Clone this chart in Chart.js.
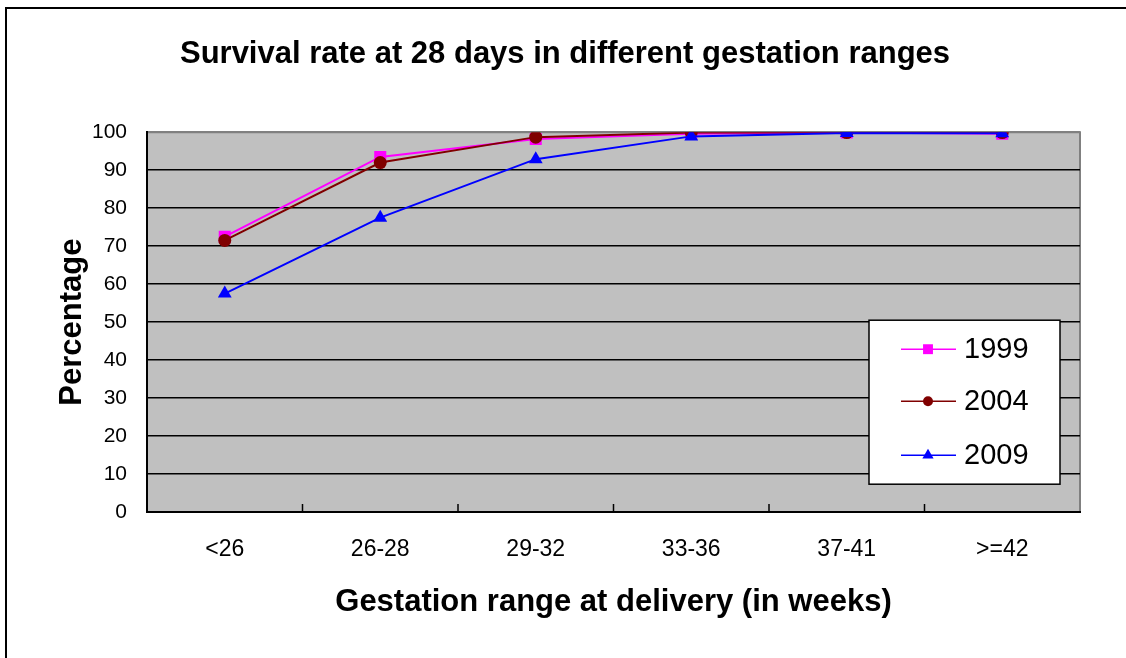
<!DOCTYPE html>
<html>
<head>
<meta charset="utf-8">
<script src="https://cdn.jsdelivr.net/npm/chart.js@4/dist/chart.umd.min.js"></script>
<style>
  html, body { margin: 0; padding: 0; background: #fff; }
  #frame { position: absolute; left: 5px; top: 7px; width: 1200px; height: 700px; border: 2px solid #000; }
  #wrap { position: absolute; left: 0; top: 0; width: 1126px; height: 658px; }
</style>
</head>
<body>
<div id="frame"></div>
<div id="wrap"><canvas id="chart"></canvas></div>
<script>
const categories = ["<26", "26-28", "29-32", "33-36", "37-41", ">=42"]
const years = ["1999", "2004", "2009"]
const rate1999 = [72.5, 93.5, 98.2, 99.6, 99.9, 99.6]
const rate2004 = [71.5, 92.0, 98.7, 99.9, 99.9, 99.9]
const rate2009 = [57.5, 77.5, 92.9, 98.9, 99.8, 99.7]

const FONT = "'Liberation Sans', Arial, sans-serif"

// grey plot background + grey right border
const plotBackground = {
  id: "plotBackground",
  beforeDraw(chart) {
    const { ctx, chartArea: a } = chart
    ctx.save()
    ctx.fillStyle = "#c0c0c0"
    ctx.fillRect(a.left, a.top, a.right - a.left, a.bottom - a.top)
    ctx.strokeStyle = "#808080"
    ctx.lineWidth = 2
    ctx.beginPath()
    ctx.moveTo(a.left, a.top)
    ctx.lineTo(a.right, a.top)
    ctx.lineTo(a.right, a.bottom)
    ctx.stroke()
    ctx.restore()
  }
}

// short tick marks inside the plot, between categories
const innerTicks = {
  id: "innerTicks",
  afterDraw(chart) {
    const { ctx } = chart
    const x = chart.scales.x
    const y0 = chart.chartArea.bottom
    ctx.save()
    ctx.strokeStyle = "#000"
    ctx.lineWidth = 1.5
    for (let i = 0; i < categories.length - 1; i++) {
      const px = (x.getPixelForTick(i) + x.getPixelForTick(i + 1)) / 2
      ctx.beginPath()
      ctx.moveTo(px, y0)
      ctx.lineTo(px, y0 - 8)
      ctx.stroke()
    }
    ctx.restore()
  }
}

// boxed legend inside the plot area
const boxLegend = {
  id: "boxLegend",
  afterDatasetsDraw(chart) {
    const { ctx, chartArea: a } = chart
    const left = a.right - 211, top = a.top + 188, w = 191, h = 164
    ctx.save()
    ctx.fillStyle = "#fff"
    ctx.fillRect(left, top, w, h)
    ctx.strokeStyle = "#000"
    ctx.lineWidth = 1.5
    ctx.strokeRect(left, top, w, h)
    const rows = [29, 81, 135]
    const radii = [7, 5, 6.5]
    chart.data.datasets.forEach((ds, i) => {
      const cy = top + rows[i]
      ctx.strokeStyle = ds.borderColor
      ctx.lineWidth = 1.5
      ctx.beginPath()
      ctx.moveTo(left + 32, cy)
      ctx.lineTo(left + 87, cy)
      ctx.stroke()
      ctx.fillStyle = ds.backgroundColor
      Chart.helpers.drawPoint(ctx, { pointStyle: ds.pointStyle, radius: radii[i], borderWidth: 0 }, left + 59, cy)
      ctx.fillStyle = "#000"
      ctx.font = "29px " + FONT
      ctx.textBaseline = "middle"
      ctx.fillText(ds.label, left + 95, cy + 1)
    })
    ctx.restore()
  }
}

const series = [rate1999, rate2004, rate2009]
const colors = ["#ff00ff", "#800000", "#0000ff"]
const styles = ["rect", "circle", "triangle"]
const radii = [8.5, 6.5, 8]

new Chart(document.getElementById("chart"), {
  type: "line",
  data: {
    labels: categories,
    datasets: years.map((y, i) => ({
      label: y,
      data: series[i],
      borderColor: colors[i],
      backgroundColor: colors[i],
      borderWidth: 2,
      pointStyle: styles[i],
      pointRadius: radii[i],
      pointBorderWidth: 0,
      order: 3 - i,
      tension: 0
    }))
  },
  options: {
    responsive: true,
    maintainAspectRatio: false,
    animation: false,
    layout: { padding: { left: 50, right: 46, top: 0, bottom: 33 } },
    plugins: {
      legend: { display: false },
      tooltip: { enabled: false },
      title: {
        display: true,
        text: "Survival rate at 28 days in different gestation ranges",
        color: "#000",
        font: { family: FONT, size: 31, weight: "bold" },
        padding: { top: 36, bottom: 59 }
      }
    },
    scales: {
      x: {
        offset: true,
        grid: { display: false, drawTicks: false },
        border: { color: "#000", width: 2 },
        ticks: { color: "#000", font: { family: FONT, size: 23 }, padding: 24 },
        title: {
          display: true,
          text: "Gestation range at delivery (in weeks)",
          color: "#000",
          font: { family: FONT, size: 31, weight: "bold" }
        },
        afterFit(scale) { scale.height = 113 }
      },
      y: {
        min: 0,
        max: 100,
        ticks: { stepSize: 10, color: "#000", font: { family: FONT, size: 21 }, padding: 20 },
        grid: {
          drawTicks: false,
          lineWidth: 1.5,
          color: ctx => ctx.tick && ctx.tick.value === 100 ? "#808080" : "#000"
        },
        border: { color: "#000", width: 2 },
        title: {
          display: true,
          text: "Percentage",
          color: "#000",
          font: { family: FONT, size: 31, weight: "bold" }
        },
        afterFit(scale) { scale.width = 97 }
      }
    }
  },
  plugins: [plotBackground, innerTicks, boxLegend]
})
</script>
</body>
</html>
